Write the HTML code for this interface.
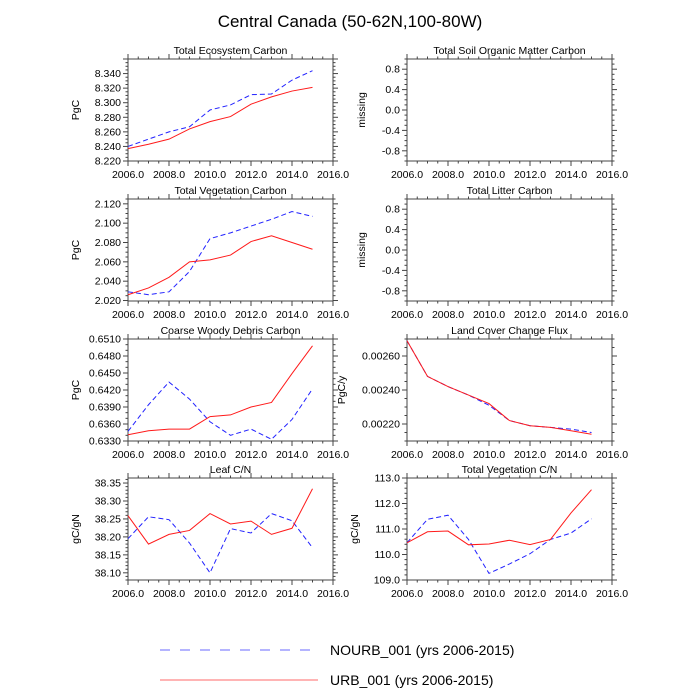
<!DOCTYPE html>
<html><head><meta charset="utf-8"><style>
body{margin:0;background:#fff;}
svg{display:block;font-family:"Liberation Sans",sans-serif;}
</style></head><body>
<svg id="c" width="700" height="700">
<text x="350" y="27" text-anchor="middle" font-size="17">Central Canada (50-62N,100-80W)</text>
<g>
<line x1="160" y1="650" x2="318" y2="650" stroke="#6a6aff" stroke-width="1" stroke-dasharray="10,10"/>
<text x="330" y="655" font-size="14">NOURB_001 (yrs 2006-2015)</text>
<line x1="160" y1="680" x2="318" y2="680" stroke="#ff6a6a" stroke-width="1"/>
<text x="330" y="685" font-size="14">URB_001 (yrs 2006-2015)</text>
</g>
</svg>
<script>
const years=[2006,2007,2008,2009,2010,2011,2012,2013,2014,2015];
const xTicks=[2006,2008,2010,2012,2014,2016];
const xTickLabels=["2006.0","2008.0","2010.0","2012.0","2014.0","2016.0"];
const ecoUrb=[8.237,8.243,8.250,8.264,8.274,8.281,8.298,8.308,8.316,8.321];
const ecoNo=[8.240,8.250,8.260,8.267,8.290,8.297,8.311,8.312,8.331,8.344];
const vegUrb=[2.026,2.033,2.044,2.060,2.062,2.067,2.081,2.087,2.080,2.073];
const vegNo=[2.029,2.026,2.029,2.050,2.084,2.090,2.097,2.104,2.112,2.107];
const cwdUrb=[0.6341,0.6348,0.6351,0.6351,0.6373,0.6376,0.6390,0.6398,0.6449,0.6498];
const cwdNo=[0.6347,0.6394,0.6434,0.6404,0.6364,0.6340,0.6351,0.6333,0.6368,0.6422];
const leafUrb=[38.259,38.180,38.207,38.218,38.265,38.236,38.244,38.207,38.224,38.334];
const leafNo=[38.195,38.256,38.248,38.183,38.100,38.223,38.211,38.265,38.245,38.170];
const lccUrb=[0.00269,0.00248,0.00242,0.00237,0.00232,0.00222,0.00219,0.00218,0.00216,0.00214];
const lccNo=[0.00269,0.00248,0.00242,0.00237,0.00231,0.00222,0.00219,0.00218,0.00217,0.00215];
const vcnUrb=[110.46,110.89,110.92,110.38,110.41,110.56,110.39,110.59,111.63,112.54];
const vcnNo=[110.46,111.38,111.54,110.59,109.26,109.63,110.03,110.59,110.84,111.40];
const ecoTicks=[8.22,8.24,8.26,8.28,8.30,8.32,8.34];
const vegTicks=[2.02,2.04,2.06,2.08,2.10,2.12];
const cwdTicks=[0.633,0.636,0.639,0.642,0.645,0.648,0.651];
const leafTicks=[38.10,38.15,38.20,38.25,38.30,38.35];
const missTicks=[-0.8,-0.4,0,0.4,0.8];
const lccTicks=[0.0022,0.0024,0.0026];
const vcnTicks=[109,110,111,112,113];

const NS="http://www.w3.org/2000/svg";
const svg=document.getElementById('c');
function mk(tag,attrs,parent){const e=document.createElementNS(NS,tag);for(const k in attrs)e.setAttribute(k,attrs[k]);(parent||svg).appendChild(e);return e;}
const panels=[
 {name:"total-ecosystem-carbon",title:"Total Ecosystem Carbon",x:128,y:59,ymin:8.22,ymax:8.36,ticks:ecoTicks,dec:3,minor:4,ylab:"PgC",u:ecoUrb,n:ecoNo},
 {name:"total-soil-organic-matter-carbon",title:"Total Soil Organic Matter Carbon",x:407,y:59,ymin:-1,ymax:1,ticks:missTicks,dec:1,minor:4,ylab:"missing",u:null,n:null},
 {name:"total-vegetation-carbon",title:"Total Vegetation Carbon",x:128,y:199,ymin:2.0195,ymax:2.125,ticks:vegTicks,dec:3,minor:4,ylab:"PgC",u:vegUrb,n:vegNo},
 {name:"total-litter-carbon",title:"Total Litter Carbon",x:407,y:199,ymin:-1,ymax:1,ticks:missTicks,dec:1,minor:4,ylab:"missing",u:null,n:null},
 {name:"coarse-woody-debris-carbon",title:"Coarse Woody Debris Carbon",x:128,y:339,ymin:0.633,ymax:0.651,ticks:cwdTicks,dec:4,minor:3,ylab:"PgC",u:cwdUrb,n:cwdNo},
 {name:"land-cover-change-flux",title:"Land Cover Change Flux",x:407,y:339,ymin:0.0021,ymax:0.0027,ticks:lccTicks,dec:5,minor:4,ylab:"PgC/y",u:lccUrb,n:lccNo},
 {name:"leaf-cn",title:"Leaf C/N",x:128,y:478,ymin:38.08,ymax:38.364,ticks:leafTicks,dec:2,minor:5,ylab:"gC/gN",u:leafUrb,n:leafNo},
 {name:"total-vegetation-cn",title:"Total Vegetation C/N",x:407,y:478,ymin:109,ymax:113,ticks:vcnTicks,dec:1,minor:5,ylab:"gC/gN",u:vcnUrb,n:vcnNo}
];
const W=205,H=102;
panels.forEach(p=>{
 const g=mk('g',{});
 
 
 const sx=v=>p.x+(v-2006)/10*W;
 const sy=v=>p.y+H-(v-p.ymin)/(p.ymax-p.ymin)*H;
 const t=mk('text',{x:p.x+W/2,y:p.y-5,'text-anchor':'middle','font-size':10.5},g);t.textContent=p.title;
 
 const r=mk('rect',{x:p.x,y:p.y,width:W,height:H,fill:'none',stroke:'#444','stroke-width':1},g);
 
 for(let v=2006;v<=2016.001;v+=0.5){
  const major=Math.abs(v%2)<1e-6;const L=major?5:2.5;const X=sx(v);
  mk('line',{x1:X,y1:p.y+H,x2:X,y2:p.y+H+L,stroke:'#444'},g);
  mk('line',{x1:X,y1:p.y,x2:X,y2:p.y-L,stroke:'#444'},g);
 }
 xTicks.forEach((v,i)=>{const tl=mk('text',{x:sx(v),y:p.y+H+17,'text-anchor':'middle','font-size':10.5},g);tl.textContent=xTickLabels[i];
  });
 const step=p.ticks[1]-p.ticks[0];const ms=step/p.minor;
 for(let v=p.ticks[0]-ms*p.minor;v<=p.ymax+1e-9;v+=ms){
  if(v<p.ymin-1e-9)continue;
  const k=Math.round((v-p.ticks[0])/ms);const major=k%p.minor===0;const L=major?5:2.5;const Y=sy(v);
  mk('line',{x1:p.x,y1:Y,x2:p.x-L,y2:Y,stroke:'#444'},g);
  mk('line',{x1:p.x+W,y1:Y,x2:p.x+W+L,y2:Y,stroke:'#444'},g);
 }
 p.ticks.forEach(v=>{const tl=mk('text',{x:p.x-7,y:sy(v)+3.5,'text-anchor':'end','font-size':10.5},g);tl.textContent=v.toFixed(p.dec);
  });
 const yx=p.ylab==="PgC/y"?p.x-62:(p.ylab==="missing"?p.x-42:p.x-49);
 const yl=mk('text',{x:yx,y:p.y+H/2,'text-anchor':'middle','font-size':10.5,transform:`rotate(-90 ${yx} ${p.y+H/2})`},g);yl.textContent=p.ylab;
 
 if(p.n){
  const ln=mk('polyline',{points:years.map((y,i)=>sx(y)+','+sy(p.n[i])).join(' '),fill:'none',stroke:'#2222ff','stroke-width':1,'stroke-dasharray':'5,3'},g);
  
  const lu=mk('polyline',{points:years.map((y,i)=>sx(y)+','+sy(p.u[i])).join(' '),fill:'none',stroke:'#ff1a1a','stroke-width':1},g);
  
 }
});
</script>
</body></html>
